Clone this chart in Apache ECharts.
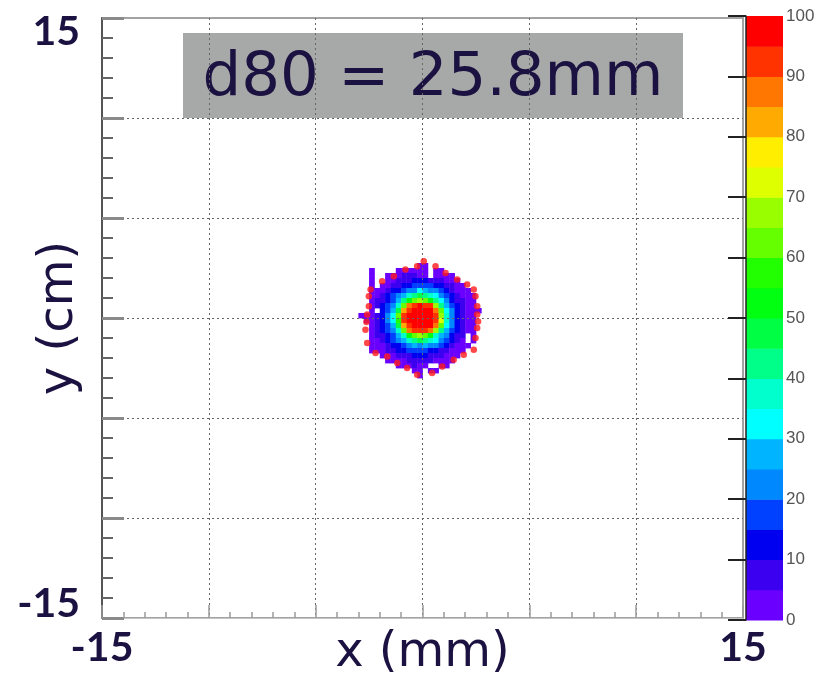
<!DOCTYPE html>
<html>
<head>
<meta charset="utf-8">
<script src="https://cdn.jsdelivr.net/npm/echarts@6/dist/echarts.min.js"></script>
<style>
  html, body { margin: 0; padding: 0; background: #ffffff; }
  #chart { width: 820px; height: 676px; }
</style>
</head>
<body>
<div id="chart"></div>
<script>
// Bin width of the dose map (same units as the axes)
const binSize = 0.25;
// Column index of the first character in each row, row index of the first row
const colLeft = -12;
const rowTop = 10;

// Dose map, one string per row from top to bottom.
// '.' = empty bin, '0'..'j' = dose level (base 36), level k covers [5k, 5k+5] %
const doseRows = [
  "...........00..........",
  "..0....000000.00.......",
  "..0..00011100.0000.....",
  "..0..00111222111000....",
  "..0.0011223333221100...",
  "..0001223446544321000..",
  "..00123457898764321000.",
  "..0112358acdca86421100.",
  "..012347chijiid8532100.",
  "..0.2359gijjjjhc6421000",
  "0001246cijjjjjid742100.",
  ".001246bijjjjjie742100.",
  "..012359gijjjjhc642100.",
  "..012347chiiihd8532100.",
  "..0112357acdca754211.0.",
  "..001234578987643210.0.",
  "..0001223454544321000..",
  "..000112233332211000...",
  "....000111222111000....",
  ".....0000111110000.....",
  ".......000100..00......",
  "..........00.00........",
  "...........0..........."
];

// Contour markers around the spot
const ringX = [0.06, 0.61, 1.08, 1.62, 2.09, 2.40, 2.48, 2.56, 2.56, 2.60, 2.56, 2.48, 2.40, 1.93, 1.46, 0.92, 0.45,
               -0.25, -0.72, -1.18, -1.65, -2.20, -2.59, -2.67, -2.62, -2.59, -2.51, -2.51, -2.43, -1.89, -1.34, -0.80, -0.25];
const ringY = [2.84, 2.59, 2.25, 1.92, 1.67, 1.42, 1.09, 0.59, 0.17, -0.17, -0.50, -1.00, -1.59, -1.84, -2.09, -2.42, -2.75,
               -2.84, -2.50, -2.25, -1.92, -1.75, -1.25, -0.59, -0.20, 0.17, 0.59, 1.09, 1.42, 1.84, 2.09, 2.42, 2.59];

// Palette of the 20 dose levels (0-5 % ... 95-100 %)
const levelColors = [
  '#6a00ff', '#3c00f0', '#0000f0', '#0040ff', '#0088ff',
  '#00b4ff', '#00ffff', '#00ffcc', '#00ff88', '#00ff44',
  '#00ff10', '#22ff00', '#66ff00', '#99ff00', '#ddff00',
  '#ffee00', '#ffaa00', '#ff7700', '#ff3300', '#ff0000'
];
const levelStep = 5;

// Axis range and the tick labels that are printed
const axisMin = -15;
const axisMax = 15;
const shownTicks = [-15, 15];
const boxText = 'd80 = 25.8mm';

const ink = '#1b1242';
const wideFont = '"DejaVu Sans", "Open Sans", sans-serif';
const labelFont = 'Lato, "Open Sans", sans-serif';

const cells = [];
doseRows.forEach((row, r) => {
  const j = rowTop - r;
  for (let p = 0; p < row.length; p++) {
    const ch = row[p];
    if (ch === '.') continue;
    const level = parseInt(ch, 36);
    cells.push([(colLeft + p) * binSize, j * binSize, level * levelStep + levelStep / 2]);
  }
});

const ring = ringX.map((x, k) => [x, ringY[k]]);
const bands = levelColors.map((c, k) => [k * levelStep, (k + 1) * levelStep]);

const tickLabel = v => (shownTicks.indexOf(v) >= 0 ? String(v) : '');

const chart = echarts.init(document.getElementById('chart'), null, { renderer: 'canvas' });

chart.setOption({
  animation: false,
  backgroundColor: '#ffffff',
  grid: [
    {
      left: 102, top: 18, width: 641, height: 600, containLabel: false, outerBoundsMode: 'none',
      show: true, borderColor: '#a3a3a3', borderWidth: 2, backgroundColor: 'transparent'
    },
    { left: 746, top: 16, width: 37, height: 604, containLabel: false, outerBoundsMode: 'none', show: false }
  ],
  xAxis: [
    {
      gridIndex: 0, type: 'value', min: axisMin, max: axisMax, interval: 5, z: 5,
      name: 'x (mm)', nameLocation: 'middle', nameGap: 12, nameMoveOverlap: false,
      nameTextStyle: { fontSize: 48, color: ink, fontFamily: wideFont, fontWeight: 'normal' },
      axisLine: { show: true, onZero: false, lineStyle: { color: '#c4c4c4', width: 1 } },
      axisTick: { show: true, inside: true, length: 13, lineStyle: { color: '#9a9a9a', width: 1.5 } },
      minorTick: { show: true, splitNumber: 5, length: 6, lineStyle: { color: '#9a9a9a', width: 1.5 } },
      splitLine: { show: true, showMinLine: false, showMaxLine: false, lineStyle: { color: '#666', width: 1, type: [2, 3] } },
      axisLabel: { show: true, formatter: tickLabel, fontSize: 41, fontWeight: 'bold', color: ink, fontFamily: labelFont, margin: 9 }
    },
    { gridIndex: 1, type: 'value', min: 0, max: 1, show: false }
  ],
  yAxis: [
    {
      gridIndex: 0, type: 'value', min: axisMin, max: axisMax, interval: 5, z: 5,
      name: 'y (cm)', nameLocation: 'middle', nameGap: 18, nameMoveOverlap: false,
      nameTextStyle: { fontSize: 48, color: ink, fontFamily: wideFont, fontWeight: 'normal' },
      axisLine: { show: true, onZero: false, lineStyle: { color: '#555', width: 2 } },
      axisTick: { show: true, inside: true, length: 22, lineStyle: { color: '#8a8a8a', width: 3 } },
      minorTick: { show: true, splitNumber: 5, length: 11, lineStyle: { color: '#666', width: 2 } },
      splitLine: { show: true, showMinLine: false, showMaxLine: false, lineStyle: { color: '#666', width: 1, type: [2, 3] } },
      axisLabel: {
        show: true, formatter: tickLabel, fontSize: 41, lineHeight: 28, fontWeight: 'bold', color: ink, fontFamily: labelFont, margin: 22,
        verticalAlignMinLabel: 'bottom', verticalAlignMaxLabel: 'top'
      }
    },
    {
      gridIndex: 1, type: 'value', min: 0, max: 100, interval: 10, position: 'right', z: 5,
      axisLine: { show: true, lineStyle: { color: '#222', width: 1.5 } },
      axisTick: { show: true, inside: true, length: 18, lineStyle: { color: '#222', width: 2 } },
      splitLine: { show: false },
      axisLabel: { show: true, fontSize: 17, color: '#555', margin: 3, fontFamily: '"Liberation Sans", Arial, sans-serif' }
    }
  ],
  series: [
    {
      type: 'custom', xAxisIndex: 0, yAxisIndex: 0, z: 2, data: cells, encode: { x: 0, y: 1 },
      renderItem: (params, api) => {
        const x0 = api.value(0), y0 = api.value(1);
        const a = api.coord([x0, y0 + binSize]);
        const b = api.coord([x0 + binSize, y0]);
        const k = Math.min(levelColors.length - 1, Math.floor(api.value(2) / levelStep));
        return {
          type: 'rect',
          shape: { x: a[0], y: a[1], width: b[0] - a[0] + 0.4, height: b[1] - a[1] + 0.4 },
          style: { fill: levelColors[k] }
        };
      }
    },
    {
      type: 'scatter', xAxisIndex: 0, yAxisIndex: 0, z: 8, data: ring,
      symbol: 'circle', symbolSize: 6.5, itemStyle: { color: '#ff1a1a' }
    },
    {
      type: 'custom', xAxisIndex: 1, yAxisIndex: 1, z: 2, data: bands, encode: { y: [0, 1] },
      renderItem: (params, api) => {
        const a = api.coord([0, api.value(1)]);
        const b = api.coord([1, api.value(0)]);
        return {
          type: 'rect',
          shape: { x: a[0], y: a[1], width: b[0] - a[0], height: b[1] - a[1] + 0.5 },
          style: { fill: levelColors[params.dataIndex] }
        };
      }
    }
  ],
  graphic: [
    {
      type: 'group', left: 183, top: 33, z: 20,
      children: [
        { type: 'rect', shape: { x: 0, y: 0, width: 500, height: 85 }, style: { fill: '#a7a9a8' } },
        {
          type: 'text', x: 250, y: 46,
          style: { text: boxText, font: 'normal 61px ' + wideFont, fill: ink, align: 'center', verticalAlign: 'middle' }
        }
      ]
    }
  ]
});
</script>
</body>
</html>
